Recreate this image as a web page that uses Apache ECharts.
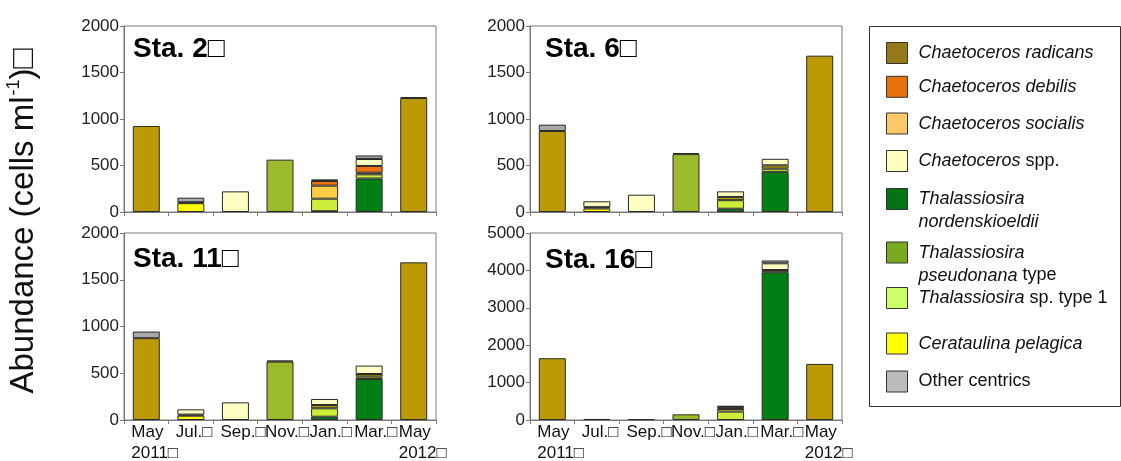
<!DOCTYPE html>
<html>
<head>
<meta charset="utf-8">
<script src="https://cdn.jsdelivr.net/npm/echarts@6/dist/echarts.min.js"></script>
<style>
html,body{margin:0;padding:0;background:#fff;}
#chart{width:1121px;height:461px;}
</style>
</head>
<body>
<div id="chart"></div>
<script>
// ---------- DATA ----------
const categories = ['May\n2011□', 'Jul.□', 'Sep.□', 'Nov.□', 'Jan.□', 'Mar.□', 'May\n2012□'];

// stacking order (bottom -> top)
const stackOrder = [
  'Thalassiosira nordenskioeldii',
  'Thalassiosira pseudonana type',
  'Thalassiosira sp. type 1',
  'Cerataulina pelagica',
  'Chaetoceros radicans',
  'Chaetoceros socialis',
  'Chaetoceros debilis',
  'Chaetoceros spp.',
  'Other centrics'
];

// legend order (top -> bottom)
const legendOrder = [
  'Chaetoceros radicans',
  'Chaetoceros debilis',
  'Chaetoceros socialis',
  'Chaetoceros spp.',
  'Thalassiosira nordenskioeldii',
  'Thalassiosira pseudonana type',
  'Thalassiosira sp. type 1',
  'Cerataulina pelagica',
  'Other centrics'
];
const legendLabels = [
  '{i|Chaetoceros radicans}',
  '{i|Chaetoceros debilis}',
  '{i|Chaetoceros socialis}',
  '{i|Chaetoceros} {n|spp.}',
  '{i|Thalassiosira}\n{i|nordenskioeldii}',
  '{i|Thalassiosira}\n{i|pseudonana} {n|type}',
  '{i|Thalassiosira} {n|sp. type 1}',
  '{i|Cerataulina pelagica}',
  '{n|Other centrics}'
];

// values per station, rows follow stackOrder, columns follow categories
const sta2 = [
  [0, 0, 0, 0, 8, 360, 0],
  [0, 0, 0, 563, 0, 0, 0],
  [0, 0, 0, 0, 135, 45, 0],
  [0, 95, 0, 0, 0, 0, 0],
  [925, 10, 0, 0, 0, 18, 1225],
  [0, 0, 0, 0, 140, 0, 0],
  [0, 0, 0, 0, 50, 72, 0],
  [0, 0, 222, 0, 18, 75, 10],
  [0, 49, 0, 0, 0, 38, 0]
];
const sta6 = [
  [0, 0, 0, 0, 35, 432, 0],
  [0, 0, 0, 622, 0, 0, 0],
  [0, 0, 0, 0, 92, 34, 0],
  [0, 38, 0, 0, 0, 0, 0],
  [871, 14, 0, 12, 35, 36, 1681],
  [0, 0, 0, 0, 0, 0, 0],
  [0, 0, 0, 0, 0, 0, 0],
  [0, 63, 186, 0, 60, 70, 0],
  [68, 0, 0, 0, 0, 0, 0]
];
const sta11 = [
  [0, 0, 0, 0, 35, 439, 0],
  [0, 0, 0, 625, 0, 0, 0],
  [0, 0, 0, 0, 90, 0, 0],
  [0, 46, 0, 0, 0, 25, 0],
  [875, 12, 0, 11, 35, 28, 1686],
  [0, 0, 0, 0, 0, 0, 0],
  [0, 0, 0, 0, 0, 0, 0],
  [0, 56, 189, 0, 65, 90, 0],
  [71, 0, 0, 0, 0, 0, 0]
];
const sta16 = [
  [0, 0, 0, 0, 0, 3950, 0],
  [0, 0, 0, 152, 0, 0, 0],
  [0, 0, 0, 0, 225, 0, 0],
  [0, 0, 0, 0, 0, 0, 0],
  [1652, 0, 0, 0, 0, 0, 1500],
  [0, 0, 0, 0, 70, 0, 0],
  [0, 0, 0, 0, 55, 60, 0],
  [0, 28, 25, 0, 30, 180, 0],
  [0, 0, 0, 0, 0, 75, 0]
];
const stations = ['Sta. 2□', 'Sta. 6□', 'Sta. 11□', 'Sta. 16□'];
const yMax = [2000, 2000, 2000, 5000];
const yInterval = [500, 500, 500, 1000];

// ---------- STYLE ----------
const FONT = '"Liberation Sans", Arial, "DejaVu Sans", sans-serif';
const barColors = {
  'Chaetoceros radicans': '#BB9A06',
  'Chaetoceros debilis': '#EE7410',
  'Chaetoceros socialis': '#FFCC44',
  'Chaetoceros spp.': '#FFFFC4',
  'Thalassiosira nordenskioeldii': '#008014',
  'Thalassiosira pseudonana type': '#9CBB2C',
  'Thalassiosira sp. type 1': '#CCEE3A',
  'Cerataulina pelagica': '#FFFF00',
  'Other centrics': '#A8A8A8'
};
const legendColors = {
  'Chaetoceros radicans': '#94781A',
  'Chaetoceros debilis': '#E8720C',
  'Chaetoceros socialis': '#FFC866',
  'Chaetoceros spp.': '#FFFFC0',
  'Thalassiosira nordenskioeldii': '#007414',
  'Thalassiosira pseudonana type': '#78A91E',
  'Thalassiosira sp. type 1': '#CCFF66',
  'Cerataulina pelagica': '#FFFF00',
  'Other centrics': '#BBBBBB'
};

const grids = [
  {left: 124, top: 26, width: 312, height: 186},
  {left: 530, top: 26, width: 312, height: 186},
  {left: 124, top: 233, width: 312, height: 187},
  {left: 530, top: 233, width: 312, height: 187}
];
const titlePos = [[133, 34], [545, 34], [133, 244], [545, 245]];
const stationData = [sta2, sta6, sta11, sta16];

const axisGray = '#7a7a7a';

const xAxes = grids.map((g, i) => ({
  type: 'category',
  gridIndex: i,
  data: categories,
  boundaryGap: true,
  axisLine: {show: true, lineStyle: {color: axisGray, width: 1}},
  axisTick: {show: true, length: 4, alignWithLabel: false, lineStyle: {color: axisGray}},
  axisLabel: {
    show: i >= 2,
    interval: 0,
    margin: 2,
    align: 'center',
    padding: [0, 0, 0, 30],
    fontFamily: FONT,
    fontSize: 17,
    color: '#111',
    lineHeight: 21,
    formatter: function (v) {
      return v.split('\n').map(s => '{a|' + s + '}').join('\n');
    },
    rich: {
      a: {width: 60, align: 'left', fontSize: 17, lineHeight: 21, fontFamily: FONT, color: '#111'}
    }
  }
}));

const yAxes = grids.map((g, i) => ({
  type: 'value',
  gridIndex: i,
  min: 0,
  max: yMax[i],
  interval: yInterval[i],
  axisLine: {show: true, lineStyle: {color: axisGray}},
  axisTick: {show: true, length: 4, lineStyle: {color: axisGray}},
  splitLine: {show: false},
  axisLabel: {fontFamily: FONT, fontSize: 17, color: '#222', margin: 5, formatter: v => String(v)}
}));

const series = [];
stationData.forEach((st, gi) => {
  stackOrder.forEach((name, si) => {
    series.push({
      name: name,
      type: 'bar',
      xAxisIndex: gi,
      yAxisIndex: gi,
      stack: 'st' + gi,
      barWidth: 27,
      data: st[si].map(v => (v === 0 ? '-' : v)),
      itemStyle: {color: barColors[name], borderColor: '#2a2a2a', borderWidth: 1},
      emphasis: {disabled: true}
    });
  });
});

const legendCenters = [52.5, 86.3, 123, 160.5, 199, 252.5, 297.5, 343, 381];
const legends = legendOrder.map((name, i) => {
  const twoLine = legendLabels[i].indexOf('\n') >= 0;
  return {
    orient: 'vertical',
    left: 886,
    top: twoLine ? legendCenters[i] - 34.5 : legendCenters[i] - 10.5,
    padding: 0,
    itemWidth: 21,
    itemHeight: 21,
    selectedMode: false,
    icon: 'rect',
    data: [{name: name, itemStyle: {color: legendColors[name], borderColor: '#333', borderWidth: 1}}],
    formatter: function () { return legendLabels[i]; },
    textStyle: {
      fontFamily: FONT,
      fontSize: 18,
      color: '#111',
      lineHeight: twoLine ? 23 : 21,
      padding: twoLine ? [23, 0, 0, 6] : [0, 0, 0, 6],
      rich: {
        i: {fontStyle: 'italic', fontFamily: FONT, fontSize: 18, color: '#111', lineHeight: twoLine ? 23 : 21},
        n: {fontStyle: 'normal', fontFamily: FONT, fontSize: 18, color: '#111', lineHeight: twoLine ? 23 : 21}
      }
    }
  };
});

const titles = stations.map((t, i) => ({
  text: t,
  left: titlePos[i][0],
  top: titlePos[i][1],
  padding: 0,
  textStyle: {fontFamily: FONT, fontSize: 28, fontWeight: 'bold', color: '#000', lineHeight: 30}
}));

const chart = echarts.init(document.getElementById('chart'), null, {renderer: 'canvas'});
chart.setOption({
  animation: false,
  backgroundColor: '#fff',
  title: titles,
  grid: grids.map(g => Object.assign({show: true, outerBoundsMode: 'none', containLabel: false, borderColor: axisGray, borderWidth: 1, backgroundColor: 'transparent'}, g)),
  xAxis: xAxes,
  yAxis: yAxes,
  legend: legends,
  series: series,
  graphic: [
    {
      type: 'rect',
      shape: {x: 869.5, y: 26.5, width: 251, height: 380},
      style: {fill: 'none', stroke: '#333', lineWidth: 1},
      silent: true
    },
    {
      type: 'text',
      x: 24,
      y: 221,
      rotation: Math.PI / 2,
      silent: true,
      style: {
        text: '{a|Abundance (cells ml}{s|-1}{a|)□}',
        align: 'center',
        verticalAlign: 'middle',
        rich: {
          a: {fontFamily: FONT, fontSize: 33, fill: '#111', lineHeight: 37},
          s: {fontFamily: FONT, fontSize: 18, fill: '#111', verticalAlign: 'top', lineHeight: 37, padding: [0, 0, 0, 1]}
        }
      }
    }
  ]
});
</script>
</body>
</html>
